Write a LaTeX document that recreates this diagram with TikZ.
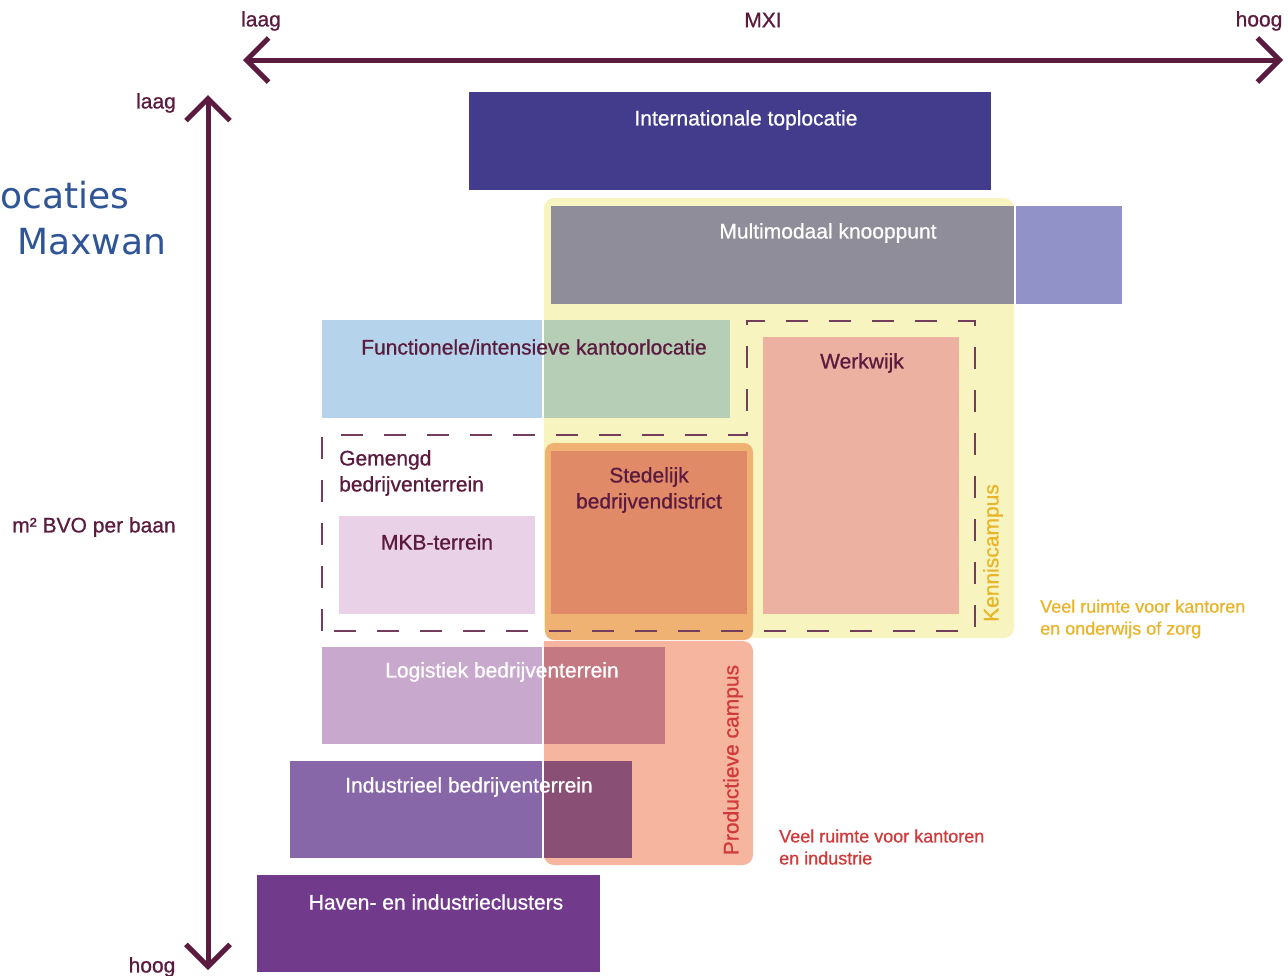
\documentclass[tikz,border=0pt]{standalone}
\usepackage{fontspec}
\setmainfont{Liberation Sans}[FakeBold=0.8]
\newfontfamily\dvfont{DejaVu Sans}
\usetikzlibrary{arrows.meta}
\definecolor{maroon}{HTML}{5B1B3E}
\definecolor{intl}{HTML}{433B8B}
\definecolor{kyellow}{HTML}{F8F4C0}
\definecolor{mgrey}{HTML}{8F8D99}
\definecolor{lav}{HTML}{9193C8}
\definecolor{lblue}{HTML}{B5D4EB}
\definecolor{lgreen}{HTML}{B5CEB5}
\definecolor{werk}{HTML}{ECB1A1}
\definecolor{mkb}{HTML}{E9D1E8}
\definecolor{orout}{HTML}{F0B273}
\definecolor{orin}{HTML}{E18A68}
\definecolor{prod}{HTML}{F6B59E}
\definecolor{logi}{HTML}{C9A8CE}
\definecolor{logio}{HTML}{C47882}
\definecolor{indu}{HTML}{8867A9}
\definecolor{induo}{HTML}{8A4F75}
\definecolor{haven}{HTML}{723A8B}
\definecolor{bluetxt}{HTML}{2F5597}
\definecolor{goldtxt}{HTML}{E8B42A}
\definecolor{redtxt}{HTML}{D03A3A}
\begin{document}
\begin{tikzpicture}[x=1pt,y=-1pt,
  lbl/.style={font=\fontsize{21}{26}\selectfont, text=maroon, inner sep=0pt},
  wlbl/.style={lbl, text=white},
  axisline/.style={draw=maroon, line width=5pt},
  barbs/.style={{Straight Barb[length=22pt,width=44pt]}-{Straight Barb[length=22pt,width=44pt]}},
  dashzone/.style={draw=maroon!85, line width=2.5pt, dash pattern=on 22pt off 21pt},
  notes/.style={lbl, anchor=west, align=left, font=\fontsize{18}{22}\selectfont}]
\useasboundingbox (0,0) rectangle (1288,975);

% axes
\coordinate (xl) at (243,60);
\coordinate (xr) at (1283,60);
\coordinate (yt) at (208,95);
\coordinate (yb) at (208,970);
\draw[axisline, barbs] (xl) -- (xr);
\draw[axisline, barbs] (yt) -- (yb);
\node[lbl] (xlaag) at (261,21) {laag};
\node[lbl] (xmxi) at (763,20) {MXI};
\node[lbl] (xhoog) at (1259,21) {hoog};
\node[lbl] (ylaag) at (156,103) {laag};
\node[lbl] (yhoog) at (152,967) {hoog};
\node[lbl] (ybvo) at (94,527) {m² BVO per baan};

% title fragment
\node[font=\dvfont\fontsize{36}{40}\selectfont, text=bluetxt, inner sep=0pt, anchor=west] (t1) at (0,195) {ocaties};
\node[font=\dvfont\fontsize{36}{40}\selectfont, text=bluetxt, inner sep=0pt, anchor=west] (t2) at (17,242) {Maxwan};

% Internationale toplocatie
\fill[intl] (469,92) rectangle (991,190);
\node[wlbl] (intl) at (746,120) {Internationale toplocatie};

% Kenniscampus zone
\fill[kyellow, rounded corners=10pt] (544,198) rectangle (1014,638);

% Multimodaal knooppunt
\fill[mgrey] (551,206) rectangle (1014,304);
\fill[lav] (1016,206) rectangle (1122,304);
\node[wlbl] (mm) at (828,233) {Multimodaal knooppunt};

% Functionele kantoorlocatie
\fill[lblue] (322,320) rectangle (542,418);
\fill[lgreen] (544,320) rectangle (730,418);
\node[lbl] (func) at (534,347) {Functionele/intensieve kantoorlocatie};

% Werkwijk
\fill[werk] (763,337) rectangle (959,614);
\node[lbl] (werk) at (862,363) {Werkwijk};

% MKB
\fill[mkb] (339,516) rectangle (535,614);
\node[lbl] (mkb) at (437,542) {MKB-terrein};
\node[lbl, anchor=north west, align=left] (gem) at (339,450) {Gemengd\\bedrijventerrein};

% Productieve campus
\fill[prod] (544,641) [rounded corners=10pt] -- (544,865) -- (753,865) -- (753,641) [sharp corners] -- cycle;

% Stedelijk bedrijvendistrict
\fill[orout, rounded corners=9pt] (545,443) rectangle (753,640);
\fill[orin] (551,451) rectangle (747,614);
\node[lbl, align=center] (sted) at (649,490) {Stedelijk\\bedrijvendistrict};

% dashed zone
\draw[dashzone] (322,631) -- (322,435) -- (747,435) -- (747,321) -- (975,321) -- (975,631) -- cycle;

% Logistiek
\fill[logi] (322,647) rectangle (542,744);
\fill[logio] (544,647) rectangle (665,744);
\node[wlbl] (logi) at (502,672) {Logistiek bedrijventerrein};

% Industrieel
\fill[indu] (290,761) rectangle (542,858);
\fill[induo] (544,761) rectangle (632,858);
\node[wlbl] (indu) at (469,787) {Industrieel bedrijventerrein};

% Haven
\fill[haven] (257,875) rectangle (600,972);
\node[wlbl] (haven) at (436,902) {Haven- en industrieclusters};

% rotated labels
\node[lbl, text=redtxt, rotate=90] (prodl) at (733,760) {Productieve campus};
\node[lbl, text=goldtxt, rotate=90] (kenl) at (993,553) {Kenniscampus};

% side notes
\node[notes, text=goldtxt] (note1) at (1040,619) {Veel ruimte voor kantoren\\en onderwijs of zorg};
\node[notes, text=redtxt] (note2) at (779,847) {Veel ruimte voor kantoren\\en industrie};
\end{tikzpicture}
\end{document}
